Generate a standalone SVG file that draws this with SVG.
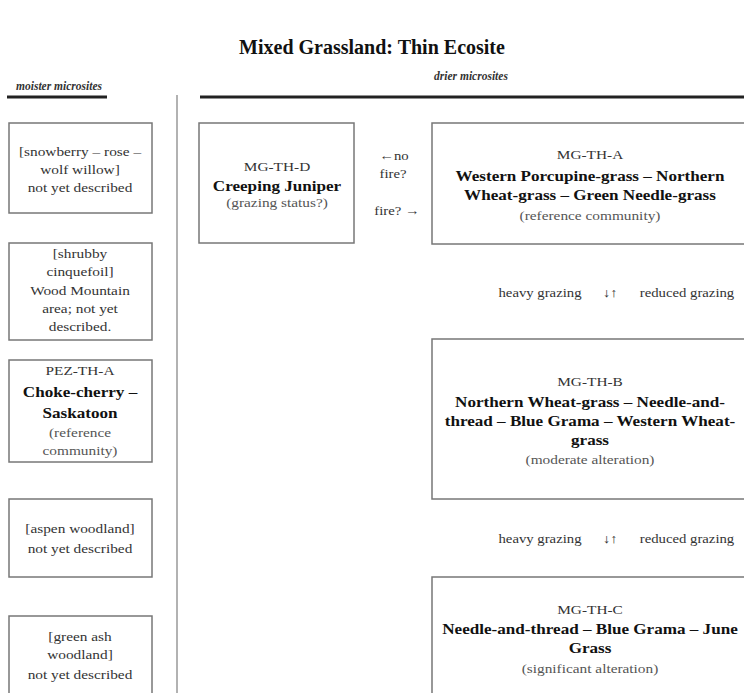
<svg xmlns="http://www.w3.org/2000/svg" width="744" height="693" viewBox="0 0 744 693" font-family="'Liberation Serif', 'DejaVu Serif', serif">
<style>
text{font-family:'Liberation Serif','DejaVu Serif',serif;fill:#222;text-anchor:middle}
.t{font-size:20px;font-weight:bold;fill:#111}
.h{font-size:11.5px;font-weight:bold;font-style:italic;fill:#333}
.r{font-size:13px;fill:#333}
.b{font-size:14.5px;font-weight:bold;fill:#111}
.s{font-size:13px;fill:#555}
.box{fill:#fff;stroke:#777;stroke-width:1.5}
.lbl{font-size:12.5px;fill:#333}
</style>
<rect width="744" height="693" fill="#fff"/>
<text class="t" x="372" y="54">Mixed Grassland:  Thin Ecosite</text>
<g id="headers">
<text class="h" x="59" y="90">moister microsites</text>
<line x1="7" y1="97" x2="107" y2="97" stroke="#222" stroke-width="3"/>
<text class="h" x="471" y="80">drier microsites</text>
<line x1="200" y1="97" x2="744" y2="97" stroke="#222" stroke-width="3"/>
<line x1="177" y1="95" x2="177" y2="693" stroke="#999" stroke-width="1.5"/>
</g>
<g id="m1">
<rect class="box" x="9" y="123" width="143" height="90"/>
<text class="r" transform="translate(80 156) scale(1.18 1)">[snowberry – rose –</text>
<text class="r" transform="translate(80 174) scale(1.18 1)">wolf willow]</text>
<text class="r" transform="translate(80 192) scale(1.18 1)">not yet described</text>
</g>
<g id="m2">
<rect class="box" x="9" y="243" width="143" height="97"/>
<text class="r" transform="translate(80 258) scale(1.18 1)">[shrubby</text>
<text class="r" transform="translate(80 276) scale(1.18 1)">cinquefoil]</text>
<text class="r" transform="translate(80 295) scale(1.18 1)">Wood Mountain</text>
<text class="r" transform="translate(80 313) scale(1.18 1)">area; not yet</text>
<text class="r" transform="translate(80 331) scale(1.18 1)">described.</text>
</g>
<g id="m3">
<rect class="box" x="9" y="360" width="143" height="102"/>
<text class="r" transform="translate(80 375) scale(1.18 1)">PEZ-TH-A</text>
<text class="b" transform="translate(80 397) scale(1.18 1)">Choke-cherry –</text>
<text class="b" transform="translate(80 418) scale(1.18 1)">Saskatoon</text>
<text class="s" transform="translate(80 437) scale(1.18 1)">(reference</text>
<text class="s" transform="translate(80 455) scale(1.18 1)">community)</text>
</g>
<g id="m4">
<rect class="box" x="9" y="499" width="143" height="78"/>
<text class="r" transform="translate(80 533) scale(1.18 1)">[aspen woodland]</text>
<text class="r" transform="translate(80 553) scale(1.18 1)">not yet described</text>
</g>
<g id="m5">
<rect class="box" x="9" y="616" width="143" height="90"/>
<text class="r" transform="translate(80 641) scale(1.18 1)">[green ash</text>
<text class="r" transform="translate(80 659) scale(1.18 1)">woodland]</text>
<text class="r" transform="translate(80 679) scale(1.18 1)">not yet described</text>
</g>
<g id="D">
<rect class="box" x="199" y="123" width="155" height="120"/>
<text class="r" transform="translate(277 171) scale(1.18 1)">MG-TH-D</text>
<text class="b" transform="translate(277 191) scale(1.18 1)">Creeping Juniper</text>
<text class="s" transform="translate(277 207) scale(1.18 1)">(grazing status?)</text>
</g>
<g id="A">
<rect class="box" x="432" y="123" width="316" height="121"/>
<text class="r" transform="translate(590 159) scale(1.18 1)">MG-TH-A</text>
<text class="b" transform="translate(590 181) scale(1.18 1)">Western Porcupine-grass – Northern</text>
<text class="b" transform="translate(590 200) scale(1.18 1)">Wheat-grass – Green Needle-grass</text>
<text class="s" transform="translate(590 220) scale(1.18 1)">(reference community)</text>
</g>
<g id="B">
<rect class="box" x="432" y="339" width="316" height="160"/>
<text class="r" transform="translate(590 386) scale(1.18 1)">MG-TH-B</text>
<text class="b" transform="translate(590 407) scale(1.18 1)">Northern Wheat-grass – Needle-and-</text>
<text class="b" transform="translate(590 426) scale(1.18 1)">thread – Blue Grama – Western Wheat-</text>
<text class="b" transform="translate(590 445) scale(1.18 1)">grass</text>
<text class="s" transform="translate(590 464) scale(1.18 1)">(moderate alteration)</text>
</g>
<g id="C">
<rect class="box" x="432" y="577" width="316" height="130"/>
<text class="r" transform="translate(590 614) scale(1.18 1)">MG-TH-C</text>
<text class="b" transform="translate(590 634) scale(1.18 1)">Needle-and-thread – Blue Grama – June</text>
<text class="b" transform="translate(590 653) scale(1.18 1)">Grass</text>
<text class="s" transform="translate(590 673) scale(1.18 1)">(significant alteration)</text>
</g>
<g id="connectors">
<text class="lbl" transform="translate(394 160) scale(1.18 1)">←no</text>
<text class="lbl" transform="translate(393 178) scale(1.18 1)">fire?</text>
<text class="lbl" transform="translate(397 215) scale(1.18 1)">fire? →</text>
<text class="lbl" transform="translate(540 297) scale(1.18 1)">heavy grazing</text>
<text class="lbl" transform="translate(610 297) scale(1.18 1)">↓↑</text>
<text class="lbl" transform="translate(687 297) scale(1.18 1)">reduced grazing</text>
<text class="lbl" transform="translate(540 543) scale(1.18 1)">heavy grazing</text>
<text class="lbl" transform="translate(610 543) scale(1.18 1)">↓↑</text>
<text class="lbl" transform="translate(687 543) scale(1.18 1)">reduced grazing</text>
</g>
</svg>
